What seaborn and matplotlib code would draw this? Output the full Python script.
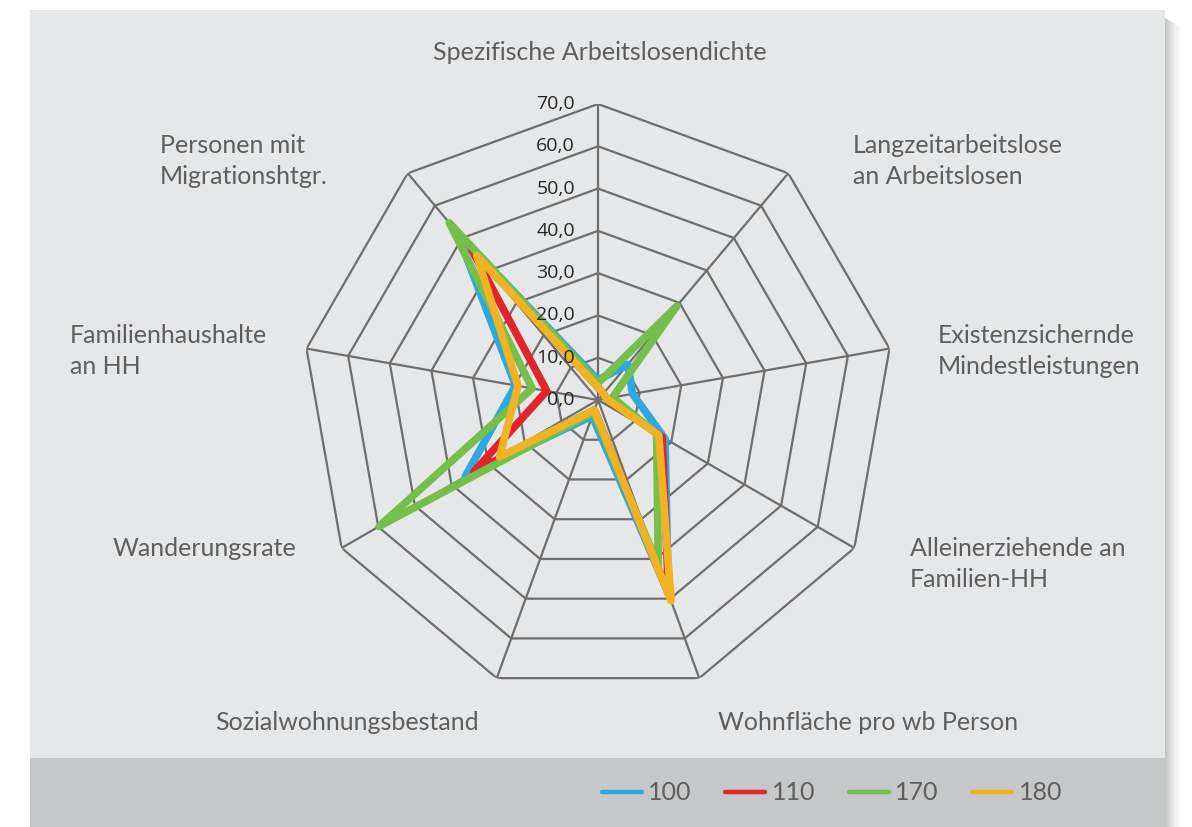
import numpy as np
import pandas as pd
import matplotlib
matplotlib.use("Agg")
import matplotlib.pyplot as plt
import seaborn as sns
from matplotlib.lines import Line2D
from matplotlib.patches import Rectangle
from matplotlib.transforms import offset_copy

# ---- data -------------------------------------------------------------
categories = [
    "Spezifische Arbeitslosendichte",
    "Langzeitarbeitslose\nan Arbeitslosen",
    "Existenzsichernde\nMindestleistungen",
    "Alleinerziehende an\nFamilien-HH",
    "Wohnfläche pro wb Person",
    "Sozialwohnungsbestand",
    "Wanderungsrate",
    "Familienhaushalte\nan HH",
    "Personen mit\nMigrationshtgr.",
]
series_names = ["100", "110", "170", "180"]
values_100 = [4.7, 11.0, 8.3, 18.3, 48.6, 4.0, 36.3, 19.8, 52.0]
values_110 = [3.0, 2.0, 2.0, 17.5, 48.8, 2.5, 33.9, 12.3, 46.6]
values_170 = [4.0, 29.0, 3.5, 16.0, 41.7, 3.0, 59.8, 15.8, 54.7]
values_180 = [3.0, 2.0, 2.0, 16.6, 50.5, 2.5, 26.9, 19.2, 44.6]
tick_values = [0, 10, 20, 30, 40, 50, 60, 70]
tick_labels = ["0,0", "10,0", "20,0", "30,0", "40,0", "50,0", "60,0", "70,0"]

series_values = [values_100, values_110, values_170, values_180]
palette = {"100": "#2EA9DF", "110": "#E3242B", "170": "#77BF4C", "180": "#EFB324"}

# ---- style ------------------------------------------------------------
sns.set_style("white")
plt.rcParams["font.family"] = ["Lato", "DejaVu Sans"]

W, H = 1192, 827
fig = plt.figure(figsize=(W / 100, H / 100), dpi=100)
fig.patch.set_facecolor("white")


def fx(px):
    return px / W


def fy(py):
    return 1 - py / H


# panel shadow on the right edge
for i in range(16):
    a = 0.45 * (1 - i / 16) ** 1.3
    fig.patches.append(Rectangle((fx(1165 + i), 0), fx(1), fy(18 + i * 0.6),
                                 transform=fig.transFigure, color="#808080",
                                 alpha=a, lw=0, zorder=0))
# panel background and legend band
fig.patches.append(Rectangle((fx(30), 0), fx(1165 - 30), fy(10),
                             transform=fig.transFigure, color="#E6E7E9",
                             lw=0, zorder=1))
fig.patches.append(Rectangle((fx(30), 0), fx(1165 - 30), (827 - 758) / H,
                             transform=fig.transFigure, color="#C6C7C9",
                             lw=0, zorder=2))

# polar axes: centre (598, 400), radius 296 px for 70
cx, cy, R = 598, 400, 296
ax = fig.add_axes([fx(cx - R), fy(cy + R), fx(2 * R), 2 * R / H],
                  projection="polar")
ax.set_zorder(5)
ax.set_facecolor("none")
ax.set_theta_zero_location("N")
ax.set_theta_direction(-1)
ax.set_ylim(0, 70)
ax.grid(False)
ax.spines["polar"].set_visible(False)
ax.set_xticks([])
ax.set_yticks([])

n = len(categories)
theta = np.arange(n) * 2 * np.pi / n
theta_closed = np.append(theta, 2 * np.pi)

grid_col = "#6e6e6e"
for v in tick_values[1:]:
    ax.plot(theta_closed, [v] * (n + 1), color=grid_col, lw=1.6, zorder=1)
for t in theta:
    ax.plot([t, t], [0, 70], color=grid_col, lw=1.6, zorder=1)

# tick labels left of the top spoke, drawn above the series
tick_tr = offset_copy(ax.transData, fig=fig, x=-23, y=0, units="dots")
for v, lbl in zip(tick_values, tick_labels):
    ax.text(0, v, lbl, transform=tick_tr, ha="right", va="center",
            fontsize=14, color="#262626", family=["Open Sans", "DejaVu Sans"],
            zorder=6)

# series as closed loops
rows = []
for name, vals in zip(series_names, series_values):
    vals_closed = list(vals) + [vals[0]]
    for t, v in zip(theta_closed, vals_closed):
        rows.append({"theta": t, "value": v, "series": name})
df = pd.DataFrame(rows)

sns.lineplot(data=df, x="theta", y="value", hue="series",
             hue_order=series_names, palette=palette, sort=False,
             estimator=None, linewidth=5.5, legend=False, ax=ax, zorder=4)
for line in ax.get_lines()[-len(series_names):]:
    line.set_linewidth(5.5)
    line.set_solid_joinstyle("round")
ax.set_xlabel("")
ax.set_ylabel("")
ax.set_ylim(0, 70)

# category labels
label_kw = dict(fontsize=18, color="#5e5e5e", fontweight="normal",
                linespacing=1.4)
label_pos = [
    (600, 52, "center"),
    (853, 161, "left"),
    (938, 351, "left"),
    (910, 564, "left"),
    (868, 722, "center"),
    (347, 722, "center"),
    (296, 548, "right"),
    (70, 351, "left"),
    (160, 161, "left"),
]
for text, (px, py, ha) in zip(categories, label_pos):
    fig.text(fx(px), fy(py), text, ha=ha, va="center", ma="left",
             zorder=6, **label_kw)

# legend in the grey band
handles = [Line2D([0], [0], color=palette[s], lw=3.2) for s in series_names]
leg = fig.legend(handles, series_names, loc="center right",
                 bbox_to_anchor=(fx(1062), fy(793)), ncol=4, frameon=False,
                 borderpad=0, borderaxespad=0,
                 handlelength=1.6, handletextpad=0.25, columnspacing=1.35,
                 prop={"size": 18, "weight": "normal"})
leg.set_zorder(7)
for t in leg.get_texts():
    t.set_color("#5e5e5e")

fig.savefig("out.png", dpi=100, facecolor="white")
